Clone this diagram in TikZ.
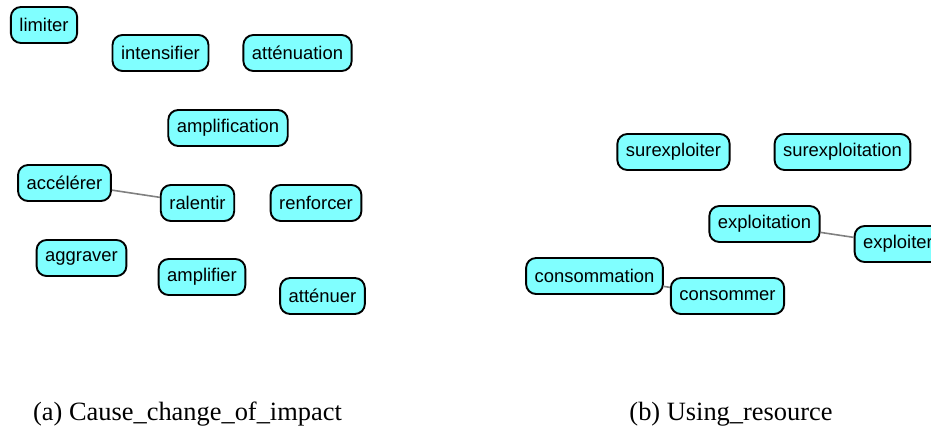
\documentclass[tikz,border=0pt]{standalone}
\usepackage{fontspec}
\setmainfont{Liberation Serif}
\newfontfamily\wordfont{Liberation Sans}
\usepackage{tikz}
\usetikzlibrary{positioning}
\definecolor{lightcyan}{RGB}{128,255,255}
\definecolor{edgegray}{RGB}{128,128,128}

\begin{document}
\begin{tikzpicture}[x=0.5pt,y=-0.5pt,
    word/.style={rectangle,draw,fill=lightcyan,line width=0.95pt,rounded corners=5pt,
      font=\wordfont\fontsize{9.2}{11}\selectfont,inner xsep=4.3pt,inner ysep=2pt,minimum height=18pt},
    link/.style={draw=edgegray,line width=0.8pt},
    caption/.style={anchor=base,font=\fontsize{13.2}{15}\selectfont}]
    \useasboundingbox (0,0) rectangle (931,428);

    % Cause_change_of_impact (left)
    \node[word] (limiter) at (44,25) {limiter};
    \node[word] (intensifier) at (160.5,53) {intensifier};
    \node[word] (attenuation) at (297.5,53) {atténuation};
    \node[word] (amplification) at (228,128) {amplification};
    \node[word] (accelerer) at (64.5,183) {accélérer};
    \node[word] (ralentir) at (197.5,203) {ralentir};
    \node[word] (renforcer) at (316,203) {renforcer};
    \node[word] (aggraver) at (81.5,258) {aggraver};
    \node[word] (amplifier) at (202,277) {amplifier};
    \node[word] (attenuer) at (322.5,296) {atténuer};

    % Using_resource (right)
    \node[word] (surexploiter) at (673.5,152) {surexploiter};
    \node[word] (surexploitation) at (842.5,152) {surexploitation};
    \node[word] (exploitation) at (764.5,224) {exploitation};
    \node[word] (exploiter) at (898,244) {exploiter};
    \node[word] (consommation) at (594.5,276) {consommation};
    \node[word] (consommer) at (727.5,296) {consommer};

    % links
    \draw[link] (accelerer) -- (ralentir);
    \draw[link] (exploitation) -- (exploiter);
    \draw[link] (consommation) -- (consommer);

    % captions
    \node[caption] (capa) at (187.5,420) {(a) Cause\_change\_of\_impact};
    \node[caption] (capb) at (731,420) {(b) Using\_resource};
\end{tikzpicture}
\end{document}
